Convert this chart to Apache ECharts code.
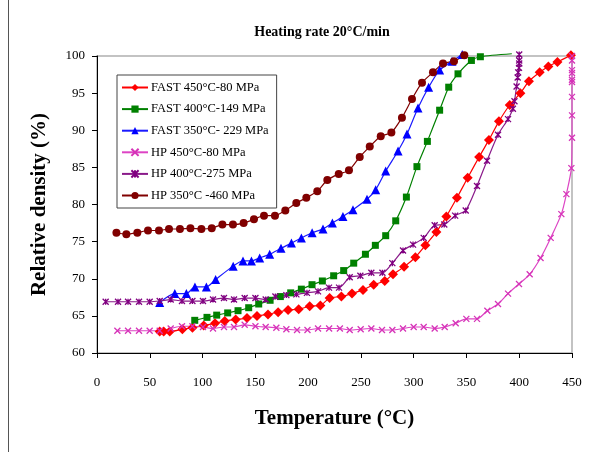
<!DOCTYPE html>
<html>
<head>
<meta charset="utf-8">
<script src="https://cdn.jsdelivr.net/npm/echarts@6/dist/echarts.min.js"></script>
<style>
  html, body { margin: 0; padding: 0; background: #fff; }
  #chart { width: 597px; height: 452px; }
</style>
</head>
<body>
<div id="chart"></div>
<script>
// [temperature °C, relative density %]
const fast450 = [[59.4,62.9],[63.2,62.9],[68.9,62.9],[80.9,63.2],[90.4,63.4],[101.1,63.7],[111.8,64.0],[121,64.3],[131.4,64.5],[142.1,64.7],[151.6,65.0],[162,65.2],[171.6,65.5],[181,65.8],[191.1,65.9],[201.5,66.3],[211.6,66.4],[220.4,67.4],[231.5,67.6],[241.6,68.0],[252,68.5],[262.1,69.2],[272.6,69.7],[280.4,70.6],[290.9,71.6],[301.6,72.9],[311.1,74.5],[321.5,76.3],[331,78.4],[341,80.9],[351.2,83.6],[362,86.4],[371.3,88.7],[380.8,91.2],[391,93.4],[401.1,95.0],[409.2,96.6],[419.4,97.8],[427.6,98.6],[436.2,99.2],[449,100.1]]
const fast400 = [[92.6,64.4],[104.2,64.8],[113.4,65.1],[123.8,65.4],[133.6,65.7],[143.7,66.1],[153.2,66.6],[164,67.1],[173.7,67.6],[183.5,68.1],[193.6,68.6],[203.7,69.2],[213.5,69.7],[224.2,70.4],[233.7,71.1],[243.2,72.1],[254.3,73.3],[263.7,74.5],[273.5,75.8],[283,77.8],[293.1,81.0],[303.1,85.1],[313,88.5],[324.6,92.7],[333.2,95.8],[342,97.6],[354.7,99.4],[363.2,99.9]]
const fast400Tail = [393, 100.3]
const fast350 = [[59.4,66.8],[73.7,68.0],[84.7,68.0],[92.8,68.9],[103.6,68.9],[112.4,69.9],[129,71.7],[138.3,72.4],[146.3,72.4],[154.1,72.8],[163.6,73.3],[174.3,74.1],[184.2,74.8],[193.6,75.5],[203.8,76.2],[214.1,76.7],[223,77.5],[233,78.4],[242.5,79.3],[255.8,80.7],[264,82.0],[273.5,84.5],[285.2,87.2],[293.7,89.5],[304.1,93.0],[314.2,95.8],[324.6,98.1],[336.3,99.3],[346,100.2]]
const hp450 = [[19.3,63.0],[29.4,63.0],[39.8,63.0],[49.9,63.0],[59.4,63.0],[69.8,63.3],[80.5,63.6],[90.4,63.6],[100.4,63.5],[109.9,63.3],[120.3,63.5],[129.8,63.5],[139.9,63.8],[150.1,63.6],[159.8,63.5],[169.9,63.4],[179.4,63.2],[189.5,63.1],[199.4,63.1],[209.4,63.3],[219.9,63.3],[230.1,63.3],[239.4,63.1],[249.8,63.2],[259.9,63.3],[270,63.1],[279.8,63.1],[289.9,63.3],[300,63.5],[309.5,63.5],[319.9,63.3],[329.4,63.5],[339.8,64.0],[349.9,64.6],[360,64.6],[369.8,65.7],[379.9,66.6],[389.4,68.0],[399.8,69.3],[409.9,70.6],[420.2,72.8],[429.8,75.5],[439.9,78.7],[444.7,81.4],[449.4,84.9],[450,89.0],[450,92.0],[450,94.5],[450,96.5],[450,96.8],[450,97.7],[450,98.1],[450,99.4],[450,100]]
const hp400 = [[8.2,66.9],[19.9,66.9],[29.4,66.9],[39.8,66.9],[49.9,66.9],[59.4,67.0],[69.8,67.2],[80.5,67.0],[90.4,67.0],[100.4,67.0],[109.9,67.2],[120.3,67.4],[129.8,67.2],[139.9,67.4],[150.1,67.4],[159.8,67.2],[169,67.6],[179.4,67.8],[188.9,67.9],[198.9,68.1],[209.4,68.3],[219.8,68.8],[229.3,68.8],[239.4,70.2],[249.5,70.4],[259.9,70.8],[270.4,70.8],[279.8,72.1],[289.9,73.8],[299.4,74.6],[309.5,75.5],[319.9,77.2],[329,77.3],[339.3,78.5],[349.3,79.2],[360,82.5],[369.5,85.9],[379.9,89.4],[389.4,91.5],[394,92.9],[395.5,93.9],[397.5,95.9],[398.5,97.1],[399,97.8],[399.8,98.4],[400,99.0],[400,99.4],[400,100.2]]
const hp350 = [[18.4,76.2],[27.8,76.0],[38.2,76.2],[48.3,76.5],[58.7,76.5],[68.2,76.7],[78.6,76.7],[88.5,76.8],[98.9,76.7],[108.7,76.8],[118.8,77.3],[128.8,77.3],[138.9,77.5],[148.7,78.0],[158.2,78.5],[168.6,78.5],[178.4,79.2],[188.8,80.2],[198.3,80.9],[208.7,81.8],[218.2,83.3],[229,84.1],[238.7,84.6],[248.9,86.4],[258.4,87.8],[268.8,89.2],[278.9,89.7],[288.9,91.7],[298.4,94.2],[307.9,96.4],[318.3,97.8],[327.8,99.0],[338.2,99.3],[348,100.1]]

const seriesNames = ['FAST 450°C-80 MPa', 'FAST 400°C-149 MPa', 'FAST 350°C- 229 MPa', 'HP 450°C-80 MPa', 'HP 400°C-275 MPa', 'HP 350°C -460 MPa']

const serif = 'Liberation Serif'
const crossPath = 'path://M0 0L10 10M10 0L0 10'
const starPath = 'path://M0 0L10 10M10 0L0 10M5 0L5 10'

function mkSeries(name, data, color, symbol, size, lineColor, stroke) {
	return {
		name: name,
		type: 'line',
		data: data,
		smooth: 0.25,
		clip: false,
		symbol: symbol,
		symbolSize: size,
		lineStyle: { color: lineColor || color, width: 1.2 },
		itemStyle: stroke ? { color: color, borderColor: color, borderWidth: 1.3 } : { color: color },
		emphasis: { disabled: true },
		z: 2
	}
}

const chart = echarts.init(document.getElementById('chart'))
const option = {
	backgroundColor: '#fff',
	animation: false,
	title: {
		text: 'Heating rate 20°C/min',
		left: 317,
		top: 20,
		textAlign: 'center',
		textStyle: { fontFamily: serif, fontSize: 14, fontWeight: 'bold', color: '#000' }
	},
	grid: {
		left: 97, right: 25, top: 56, bottom: 99,
		show: true, borderColor: '#b0b0b0', borderWidth: 1.5
	},
	legend: {
		orient: 'vertical',
		left: 117, top: 75,
		padding: [6, 8, 6, 4],
		itemWidth: 26, itemHeight: 9,
		itemGap: 8.6,
		borderColor: '#444', borderWidth: 1,
		backgroundColor: '#fff',
		textStyle: { fontFamily: serif, fontSize: 12.5, color: '#000', padding: [0, 0, 0, -2] },
		data: seriesNames
	},
	xAxis: {
		type: 'value',
		min: 0, max: 450, interval: 50,
		name: 'Temperature (°C)',
		nameLocation: 'middle',
		nameGap: 55,
		nameTextStyle: { fontFamily: serif, fontSize: 21, fontWeight: 'bold', color: '#000' },
		axisLine: { lineStyle: { color: '#000', width: 1 } },
		axisTick: { inside: false, length: 5, lineStyle: { color: '#000' } },
		axisLabel: { margin: 23, fontFamily: serif, fontSize: 13, color: '#000' },
		splitLine: { show: false }
	},
	yAxis: {
		type: 'value',
		min: 60, max: 100, interval: 5,
		name: 'Relative density (%)',
		nameLocation: 'middle',
		nameGap: 47,
		nameTextStyle: { fontFamily: serif, fontSize: 21, fontWeight: 'bold', color: '#000' },
		axisLine: { show: true, lineStyle: { color: '#000', width: 1 } },
		axisTick: { show: true, inside: false, length: 5, lineStyle: { color: '#000' } },
		axisLabel: { margin: 12, fontFamily: serif, fontSize: 13, color: '#000' },
		splitLine: { show: false }
	},
	graphic: [{
		type: 'line',
		shape: { x1: 8.5, y1: 0, x2: 8.5, y2: 452 },
		style: { stroke: '#555', lineWidth: 1 }
	}],
	series: [
		mkSeries(seriesNames[0], fast450, '#ff0000', 'diamond', 10),
		mkSeries(seriesNames[1], fast400.concat([{ value: fast400Tail, symbol: 'none' }]), '#008000', 'rect', 7),
		mkSeries(seriesNames[2], fast350, '#0000ff', 'triangle', 9, '#1a1aff'),
		mkSeries(seriesNames[3], hp450, '#d633b8', crossPath, 6, '#dd44c4', true),
		mkSeries(seriesNames[4], hp400, '#800080', starPath, 6, '#8a1a8a', true),
		mkSeries(seriesNames[5], hp350, '#800000', 'circle', 8)
	]
}
chart.setOption(option)
</script>
</body>
</html>
